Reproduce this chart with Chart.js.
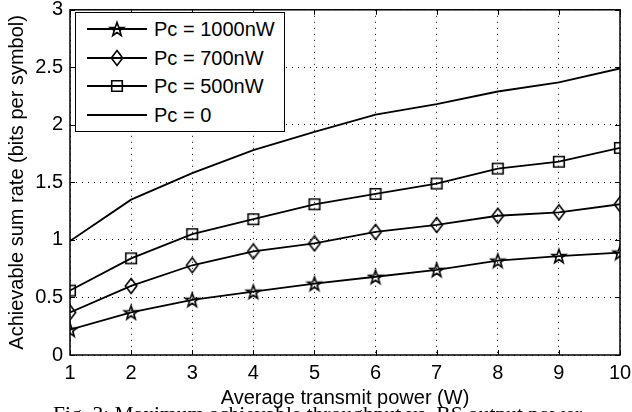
<!DOCTYPE html>
<html>
<head>
<meta charset="utf-8">
<script src="https://cdn.jsdelivr.net/npm/chart.js@4/dist/chart.umd.min.js"></script>
<style>
    html, body { margin: 0; padding: 0; width: 632px; height: 412px; overflow: hidden; background: #fff; }
    #wrap { position: relative; width: 632px; height: 412px; }
    #chart { position: absolute; left: 0; top: 0; }
    #legend {
        position: absolute; left: 75px; top: 12px; width: 208px; height: 118px;
        border: 1px solid #000; background: #fff;
        font-family: 'Liberation Sans', Arial, sans-serif; font-size: 20px; color: #000;
    }
    #legend .row { position: absolute; left: 0; width: 208px; height: 20px; }
    #legend canvas { position: absolute; left: 11px; top: 0; }
    #legend span { position: absolute; left: 78px; top: 0; line-height: 20px; white-space: nowrap; }
    #caption {
        position: absolute; left: 53px; top: 403px; white-space: nowrap;
        font-family: 'Liberation Serif', 'Times New Roman', serif; font-size: 21.5px; line-height: 22px; color: #000;
    }
</style>
</head>
<body>
<div id="wrap">
    <canvas id="chart" width="632" height="412"></canvas>
    <div id="legend"></div>
    <div id="caption">Fig. 3: Maximum achievable throughput vs. BS output power</div>
</div>
<script>
// values
const powers = [1, 2, 3, 4, 5, 6, 7, 8, 9, 10];
const pc1000 = [0.22, 0.37, 0.48, 0.55, 0.62, 0.68, 0.74, 0.82, 0.86, 0.89];
const pc700 = [0.37, 0.60, 0.78, 0.90, 0.97, 1.07, 1.13, 1.21, 1.24, 1.31];
const pc500 = [0.56, 0.84, 1.05, 1.18, 1.31, 1.40, 1.49, 1.62, 1.68, 1.80];
const pc0 = [0.99, 1.35, 1.58, 1.78, 1.94, 2.09, 2.18, 2.29, 2.37, 2.49];
const seriesNames = ['Pc = 1000nW', 'Pc = 700nW', 'Pc = 500nW', 'Pc = 0'];
const seriesMarkers = ['star', 'diamond', 'square', null];

function makeMarker(kind) {
    const c = document.createElement('canvas');
    c.width = 18;
    c.height = 18;
    const g = c.getContext('2d');
    g.strokeStyle = '#000';
    g.lineWidth = 1.6;
    g.lineJoin = 'miter';
    g.beginPath();
    if (kind === 'star') {
        for (let i = 0; i < 10; i++) {
            const r = i % 2 ? 2.9 : 7.2;
            const a = -Math.PI / 2 + i * Math.PI / 5;
            const px = 9 + r * Math.cos(a), py = 9.6 + r * Math.sin(a);
            if (i === 0) g.moveTo(px, py); else g.lineTo(px, py);
        }
        g.closePath();
    } else if (kind === 'diamond') {
        g.moveTo(9, 1.5);
        g.lineTo(14.7, 9);
        g.lineTo(9, 16.5);
        g.lineTo(3.3, 9);
        g.closePath();
    } else if (kind === 'square') {
        g.rect(3.7, 3.7, 10.6, 10.6);
    }
    g.stroke();
    return c;
}

const markerImgs = seriesMarkers.map(m => m ? makeMarker(m) : null);

function toPoints(vals) {
    return vals.map((v, i) => ({ x: powers[i], y: v }));
}

// box round the plot with inward tick marks on all four sides
const frame = {
    id: 'frame',
    beforeDatasetsDraw(chart) {
        const { ctx, chartArea: a, scales: { x, y } } = chart;
        ctx.save();
        ctx.strokeStyle = '#000';
        ctx.lineWidth = 1.5;
        ctx.strokeRect(a.left, a.top, a.right - a.left, a.bottom - a.top);
        ctx.lineWidth = 1;
        ctx.beginPath();
        x.ticks.forEach(t => {
            const px = Math.round(x.getPixelForValue(t.value)) + 0.5;
            ctx.moveTo(px, a.bottom); ctx.lineTo(px, a.bottom - 5);
            ctx.moveTo(px, a.top); ctx.lineTo(px, a.top + 5);
        });
        y.ticks.forEach(t => {
            const py = Math.round(y.getPixelForValue(t.value)) + 0.5;
            ctx.moveTo(a.left, py); ctx.lineTo(a.left + 5, py);
            ctx.moveTo(a.right, py); ctx.lineTo(a.right - 5, py);
        });
        ctx.stroke();
        ctx.restore();
    }
};

Chart.defaults.font.family = "'Liberation Sans', Arial, sans-serif";
Chart.defaults.font.size = 20;
Chart.defaults.color = '#000';

const datasets = [pc1000, pc700, pc500, pc0].map((vals, i) => ({
    label: seriesNames[i],
    data: toPoints(vals),
    borderColor: '#000',
    borderWidth: 1.8,
    tension: 0,
    pointStyle: markerImgs[i] || 'circle',
    pointRadius: markerImgs[i] ? 8 : 0,
    pointBackgroundColor: 'rgba(0,0,0,0)',
    pointBorderColor: '#000'
}));

const chart = new Chart(document.getElementById('chart').getContext('2d'), {
    type: 'line',
    data: { datasets: datasets },
    options: {
        responsive: false,
        animation: false,
        layout: { padding: { left: 0, top: 8, right: 12, bottom: 0 } },
        plugins: { legend: { display: false }, tooltip: { enabled: false } },
        scales: {
            x: {
                type: 'linear',
                min: 1,
                max: 10,
                ticks: { stepSize: 1, padding: 6, callback: v => String(v) },
                grid: { color: '#000', lineWidth: 1, drawTicks: false },
                border: { display: false, dash: [1, 5] },
                title: { display: true, text: 'Average transmit power (W)', padding: { top: 0, bottom: 2 } },
                afterFit(s) { s.height = 57; s.paddingLeft = 0; s.paddingRight = 0; }
            },
            y: {
                min: 0,
                max: 3,
                ticks: { stepSize: 0.5, padding: 7, callback: v => String(v) },
                grid: { color: '#000', lineWidth: 1, drawTicks: false },
                border: { display: false, dash: [1, 5] },
                title: { display: true, text: 'Achievable sum rate (bits per symbol)', padding: { top: 5, bottom: 0 } },
                afterFit(s) { s.width = 70; s.paddingTop = 0; s.paddingBottom = 0; }
            }
        }
    },
    plugins: [frame]
});

// legend: line sample with marker, then the label
const legendBox = document.getElementById('legend');
const rowTops = [6, 35, 63, 92];
seriesNames.forEach((name, i) => {
    const row = document.createElement('div');
    row.className = 'row';
    row.style.top = rowTops[i] + 'px';
    const c = document.createElement('canvas');
    c.width = 60;
    c.height = 20;
    const g = c.getContext('2d');
    g.strokeStyle = '#000';
    g.lineWidth = 1.8;
    g.beginPath();
    g.moveTo(0, 10);
    g.lineTo(60, 10);
    g.stroke();
    if (markerImgs[i]) g.drawImage(markerImgs[i], 21, 1);
    const label = document.createElement('span');
    label.textContent = name;
    row.appendChild(c);
    row.appendChild(label);
    legendBox.appendChild(row);
});
</script>
</body>
</html>
